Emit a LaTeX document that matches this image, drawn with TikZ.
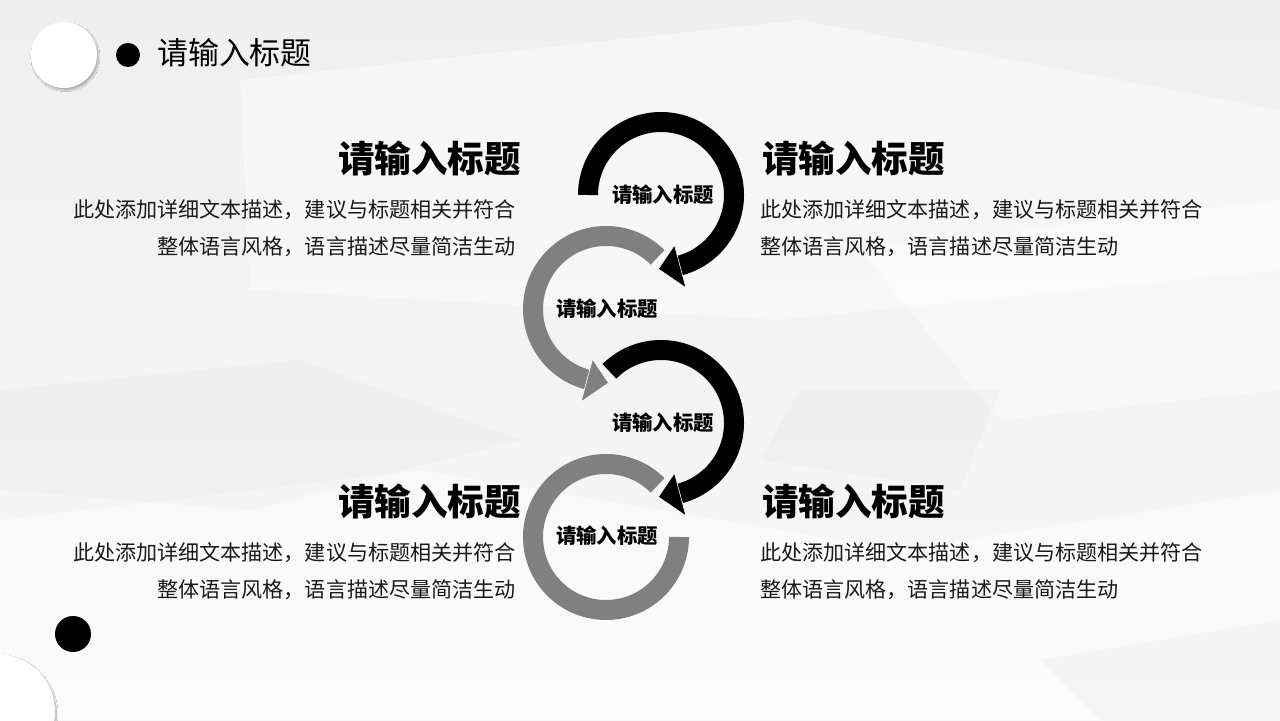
\documentclass[tikz,border=0pt]{standalone}
\usepackage{fontspec}
\setmainfont{Noto Sans CJK SC}
\usetikzlibrary{calc,shadows.blur}
\definecolor{bgtop}{RGB}{239,239,239}
\definecolor{bgbottom}{RGB}{248,248,248}
\definecolor{ringgray}{RGB}{128,128,128}
\definecolor{textdark}{RGB}{25,25,25}

\tikzset{
  heading/.style={inner sep=0pt,font=\fontsize{52}{60}\selectfont\bfseries},
  bodytext/.style={inner sep=0pt,font=\fontsize{30}{52.6}\selectfont,text=textdark},
  ringtext/.style={inner sep=0pt,font=\fontsize{29}{34}\selectfont\bfseries},
  ring/.style={line width=1cm,line cap=butt},
  tip/.style={draw=white,line width=0.8pt},
  facet/.style={white,opacity=0.45}
}

\begin{document}
\begin{tikzpicture}[x=0.5mm,y=0.5mm]
  \useasboundingbox (0,0) rectangle (1280,720);

  % Background
  \shade[top color=bgtop,bottom color=bgbottom] (0,0) rectangle (1280,720);
  \fill[facet] (240,640) -- (800,700) -- (1280,610) -- (1280,450) -- (780,400) -- (250,430) -- cycle;
  \fill[facet] (0,0) -- (0,200) -- (420,250) -- (900,170) -- (1280,230) -- (1280,0) -- cycle;
  \fill[facet] (860,470) -- (1280,520) -- (1280,330) -- (1000,300) -- cycle;
  \fill[black,opacity=0.02] (0,330) -- (300,360) -- (520,280) -- (250,210) -- (0,230) -- cycle;
  \fill[black,opacity=0.02] (1040,60) -- (1280,100) -- (1280,0) -- (1100,0) -- cycle;
  \fill[black,opacity=0.02] (800,330) -- (1000,330) -- (960,230) -- (760,260) -- cycle;

  % Corner dots
  \fill[white,blur shadow={shadow blur steps=8,shadow xshift=2pt,shadow yshift=-3pt,shadow opacity=30}] (64,665) circle[radius=33];
  \fill[black] (128,665) circle[radius=12];
  \fill[black] (73,86) circle[radius=18];
  \fill[white,blur shadow={shadow blur steps=8,shadow xshift=2pt,shadow yshift=-3pt,shadow opacity=30}] (-3,8) circle[radius=58];

  % Title
  \node[anchor=west,inner sep=0pt,font=\fontsize{44}{50}\selectfont] (title) at (157,667) {请输入标题};

  % Rings
  \node[ringtext] (r1) at (663,525) {请输入标题};
  \node[ringtext] (r2) at (607,411) {请输入标题};
  \node[ringtext] (r3) at (663,297) {请输入标题};
  \node[ringtext] (r4) at (607,184) {请输入标题};
  \coordinate (c1) at (661,525);
  \coordinate (c2) at (606,411);
  \coordinate (c3) at (661,297);
  \coordinate (c4) at (606,183);

  \draw[ring,ringgray] ($(c2)+(45:73)$) arc[start angle=45,end angle=255,radius=73];
  \fill[ringgray,tip] ($(c2)+(-105:52)$) -- ($(c2)+(-105:96)$) -- ($(c2)+(-88:74)$) -- cycle;
  \draw[ring,black] ($(c1)+(180:73)$) arc[start angle=180,end angle=-75,radius=73];
  \fill[black,tip] ($(c1)+(-75:52)$) -- ($(c1)+(-75:96)$) -- ($(c1)+(-92:74)$) -- cycle;
  \draw[ring,ringgray] ($(c4)+(45:73)$) arc[start angle=45,end angle=360,radius=73];
  \draw[ring,black] ($(c3)+(135:73)$) arc[start angle=135,end angle=-75,radius=73];
  \fill[black,tip] ($(c3)+(-75:52)$) -- ($(c3)+(-75:96)$) -- ($(c3)+(-92:74)$) -- cycle;

  % Upper text blocks
  \node[heading,anchor=east] (h1) at (521,562) {请输入标题};
  \node[bodytext,anchor=east,align=right] (b1) at (516,492) {此处添加详细文本描述，建议与标题相关并符合\\整体语言风格，语言描述尽量简洁生动};
  \node[heading,anchor=west] (h2) at (762,562) {请输入标题};
  \node[bodytext,anchor=west,align=left] (b2) at (760,492) {此处添加详细文本描述，建议与标题相关并符合\\整体语言风格，语言描述尽量简洁生动};

  % Lower text blocks
  \node[heading,anchor=east] (h3) at (521,219) {请输入标题};
  \node[bodytext,anchor=east,align=right] (b3) at (516,149) {此处添加详细文本描述，建议与标题相关并符合\\整体语言风格，语言描述尽量简洁生动};
  \node[heading,anchor=west] (h4) at (762,219) {请输入标题};
  \node[bodytext,anchor=west,align=left] (b4) at (760,149) {此处添加详细文本描述，建议与标题相关并符合\\整体语言风格，语言描述尽量简洁生动};
\end{tikzpicture}
\end{document}
